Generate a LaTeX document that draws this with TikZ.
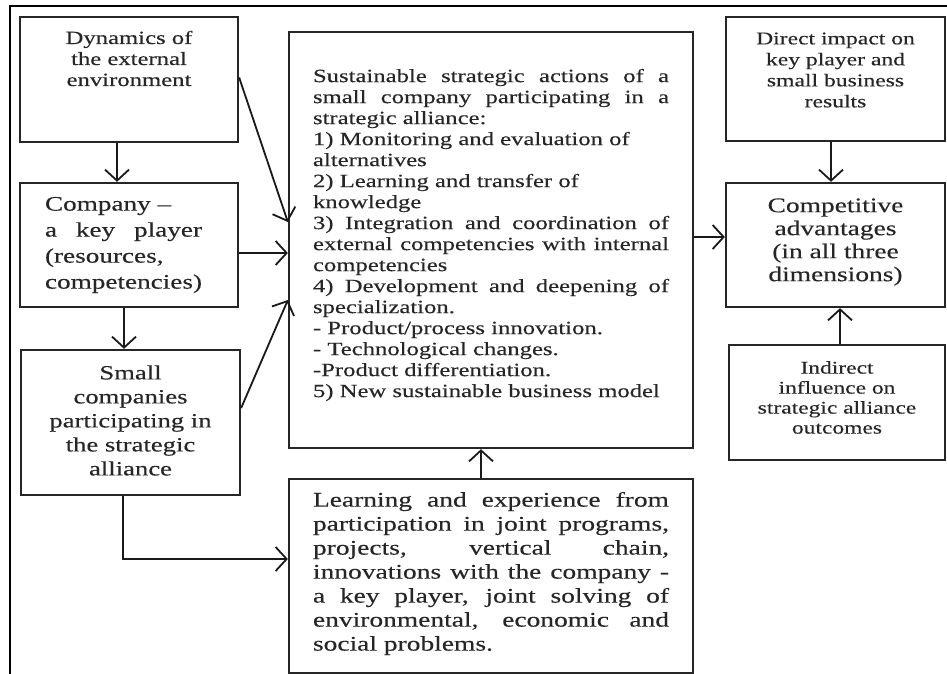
\documentclass[tikz,border=0pt]{standalone}
\usepackage{fontspec}
\setmainfont[FakeStretch=1.32, FakeBold=0.3]{Liberation Serif}
\usetikzlibrary{arrows.meta, positioning}
\newcommand{\fsz}[2]{\fontsize{#1}{#2}\selectfont}

\begin{document}
\begin{tikzpicture}[x=1pt, y=-1pt,
    box/.style={draw, line width=2.3pt, draw=black!85},
    txt/.style={inner sep=0pt, align=center, text=black!85},
    jtxt/.style={inner sep=0pt, text width=356pt, align=justify, text=black!85},
    arr/.style={line width=1.8pt, draw=black!90, -{Straight Barb[length=11pt, width=24pt, line width=1.8pt]}}]
  \useasboundingbox (0,0) rectangle (947,674);
  \draw[line width=1.8pt] (10,674) -- (10,6) -- (947,6);

  % boxes
  \node[box, minimum width=218pt, minimum height=125pt] (dyn) at (129,79.5) {};
  \node[box, minimum width=218pt, minimum height=124pt] (comp) at (129,245) {};
  \node[box, minimum width=219pt, minimum height=145pt] (small) at (130.5,422.5) {};
  \node[box, minimum width=404pt, minimum height=416pt] (acts) at (491,240) {};
  \node[box, minimum width=404pt, minimum height=194pt] (learn) at (491,576) {};
  \node[box, minimum width=219pt, minimum height=124pt] (direct) at (835.5,79) {};
  \node[box, minimum width=219pt, minimum height=124pt] (adv) at (835.5,245) {};
  \node[box, minimum width=216pt, minimum height=115pt] (indirect) at (837,402.5) {};

  % texts
  \node[txt, font=\fsz{18.7}{21}] (dyn-t) at ([yshift=21pt]dyn.center)
    {Dynamics of\\the external\\environment};
  \node[txt, font=\fsz{20.6}{26}, text width=157pt, align=left] (comp-t) at ([xshift=-5.5pt]comp.center)
    {Company --\\a\hfill key\hfill player\\(resources,\\competencies)};
  \node[txt, font=\fsz{20.2}{24}] (small-t) at ([yshift=2pt]small.center)
    {Small\\companies\\participating in\\the strategic\\alliance};
  \node[jtxt, font=\fsz{18.7}{21}] (acts-t) at ([yshift=5pt]acts.center)
    {Sustainable strategic actions of a\linebreak
     small company participating in a\linebreak
     strategic alliance:\\
     1) Monitoring and evaluation of\\
     alternatives\\
     2) Learning and transfer of\\
     knowledge\\
     3) Integration and coordination of\linebreak
     external competencies with internal\linebreak
     competencies\\
     4) Development and deepening of\linebreak
     specialization.\\
     - Product/process innovation.\\
     - Technological changes.\\
     -Product differentiation.\\
     5) New sustainable business model};
  \node[jtxt, font=\fsz{20.8}{24}] (learn-t) at ([yshift=2.5pt]learn.center)
    {Learning and experience from\linebreak
     participation in joint programs,\linebreak
     projects, vertical chain,\linebreak
     innovations with the company -\linebreak
     a key player, joint solving of\linebreak
     environmental, economic and\linebreak
     social problems.};
  \node[txt, font=\fsz{17.9}{21}] (direct-t) at ([yshift=9pt]direct.center)
    {Direct impact on\\key player and\\small business\\results};
  \node[txt, font=\fsz{20.8}{23}] (adv-t) at ([yshift=3pt]adv.center)
    {Competitive\\advantages\\(in all three\\dimensions)};
  \node[txt, font=\fsz{17.8}{20}] (indirect-t) at ([yshift=5pt]indirect.center)
    {Indirect\\influence on\\strategic alliance\\outcomes};

  % connectors
  \draw[arr] ([xshift=-12pt]dyn.south) -- ([xshift=-12pt]comp.north);
  \draw[arr] ([xshift=-5pt]comp.south) -- ([xshift=-5pt]comp.south |- small.north);
  \draw[arr] ([yshift=2pt]dyn.east) -- ([yshift=18pt]acts.west);
  \draw[arr] ([yshift=-8pt]comp.east) -- ([yshift=-8pt]comp.east -| acts.west);
  \draw[arr] ([yshift=14.5pt]small.east) -- ([yshift=-60pt]acts.west);
  \draw[arr] ([xshift=-7.5pt]small.south) |- ([yshift=17pt]learn.west);
  \draw[arr] ([xshift=-10pt]learn.north) -- ([xshift=-10pt]acts.south);
  \draw[arr] ([yshift=3pt]acts.east) -- ([yshift=3pt]acts.east -| adv.west);
  \draw[arr] ([xshift=-4.5pt]direct.south) -- ([xshift=-4.5pt]direct.south |- adv.north);
  \draw[arr] ([xshift=3pt]indirect.north) -- ([xshift=3pt]indirect.north |- adv.south);
\end{tikzpicture}
\end{document}
